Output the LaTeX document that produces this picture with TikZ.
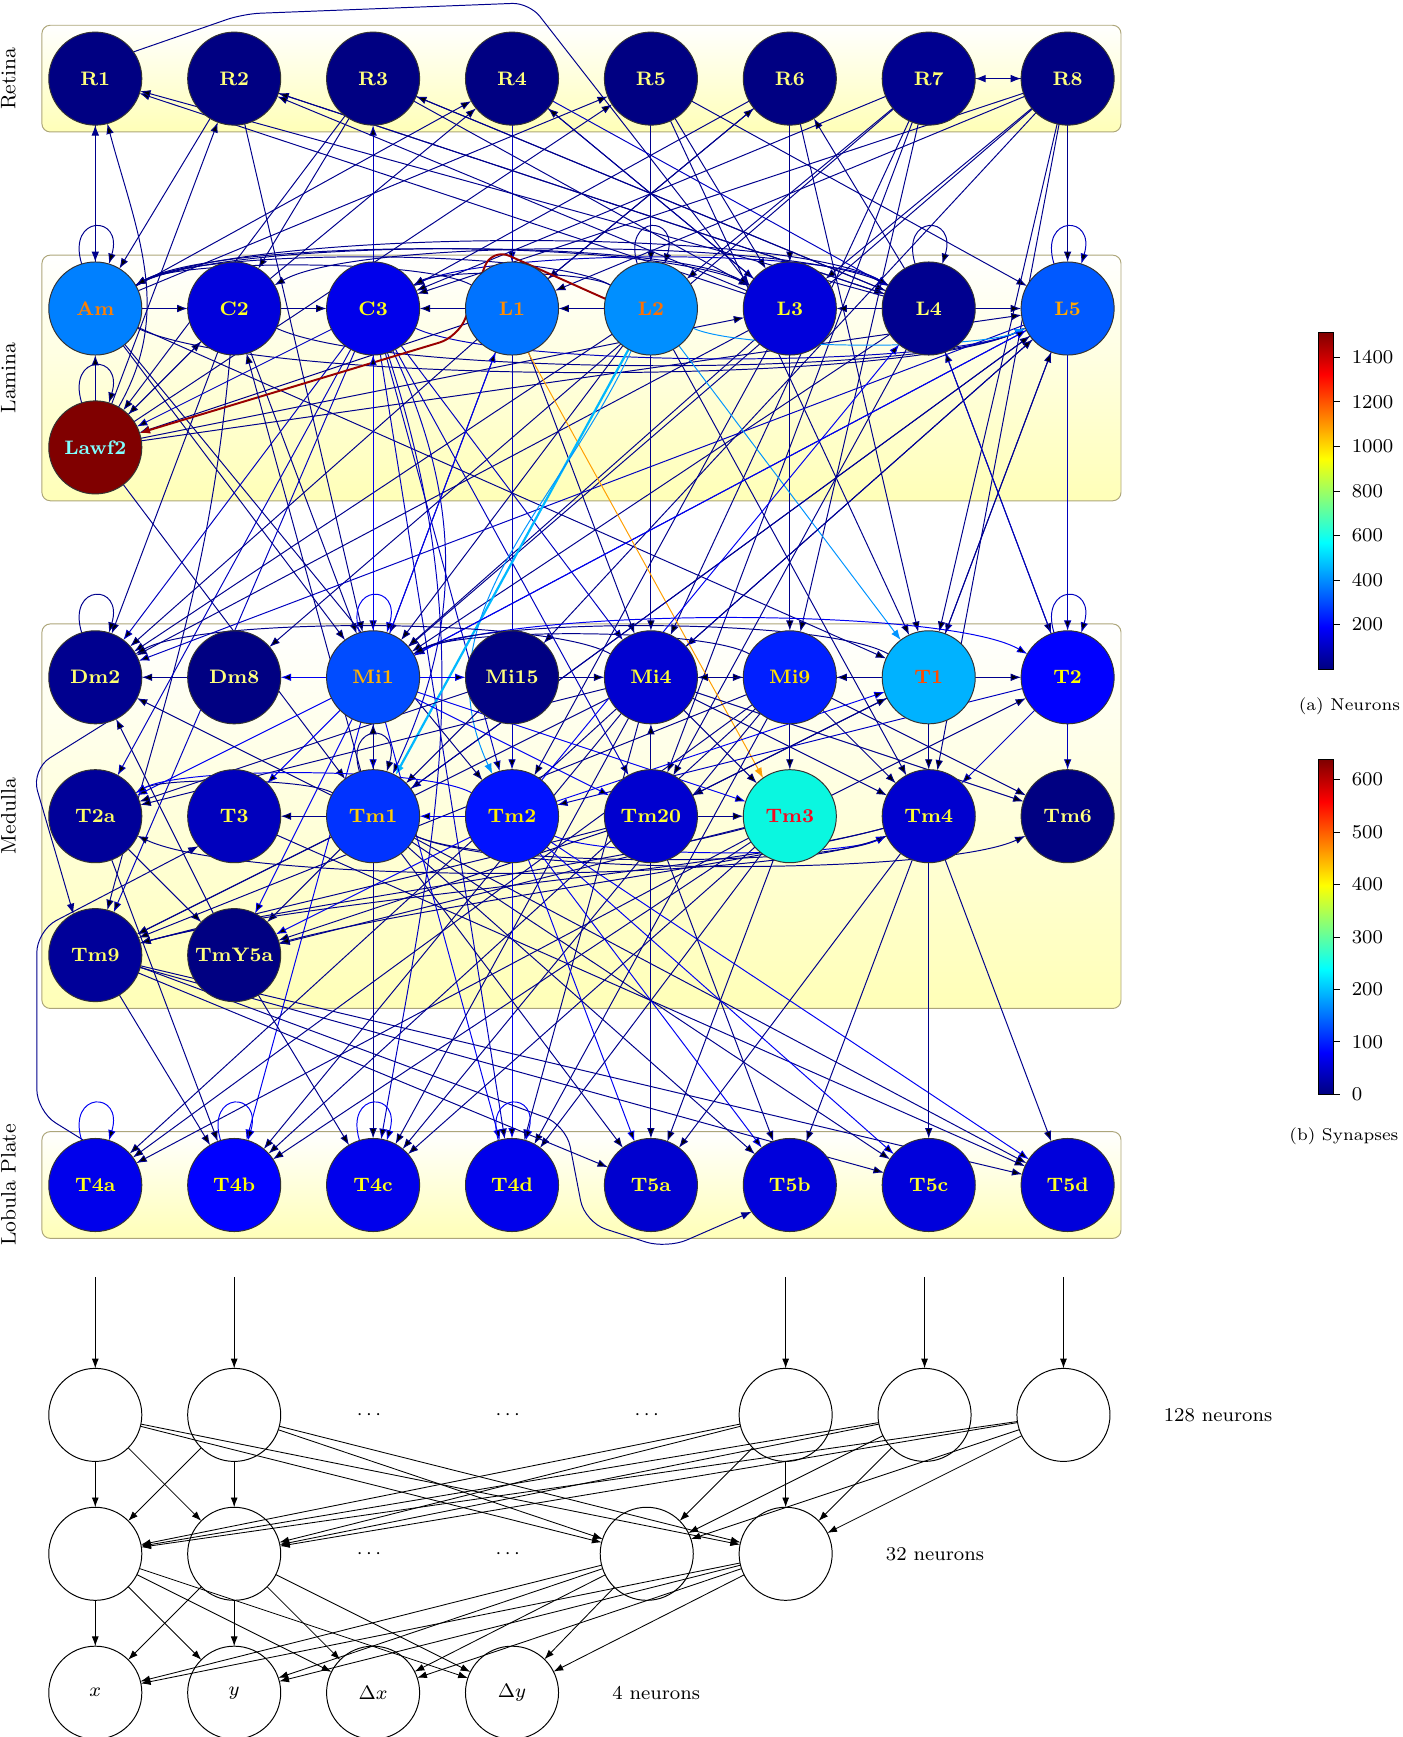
\documentclass[tikz,border=0pt]{standalone}
\usepackage{tikz}
\usetikzlibrary{arrows.meta,positioning,fit}
\definecolor{EdgeNavy}{rgb}{0,0,0.55}
\definecolor{EdgeMid}{rgb}{0,0,0.75}
\definecolor{EdgeBright}{rgb}{0,0,0.95}
\definecolor{SynRed}{rgb}{0.6,0,0}
\definecolor{SynOrange}{rgb}{1,0.62,0}
\definecolor{SynSky}{rgb}{0,0.72,1}
\definecolor{SynAzure}{rgb}{0,0.58,1}
\definecolor{PanelLine}{rgb}{0.68,0.65,0.48}
\definecolor{PanelYellow}{rgb}{1,1,0.72}
% neuron fills, jet map of the neuron counts
\definecolor{JetNavy}{rgb}{0,0,0.51}
\definecolor{JetDeep}{rgb}{0,0,0.56}
\definecolor{JetDark}{rgb}{0,0,0.6}
\definecolor{JetMid}{rgb}{0,0,0.74}
\definecolor{JetRoyal}{rgb}{0,0,0.81}
\definecolor{JetStrong}{rgb}{0,0,0.86}
\definecolor{JetVivid}{rgb}{0,0,0.92}
\definecolor{JetBlue}{rgb}{0,0,1}
\definecolor{JetTmtwo}{rgb}{0,0.07,1}
\definecolor{JetMinine}{rgb}{0,0.12,1}
\definecolor{JetTmone}{rgb}{0,0.2,1}
\definecolor{JetMione}{rgb}{0,0.3,1}
\definecolor{JetLfive}{rgb}{0,0.35,1}
\definecolor{JetLone}{rgb}{0,0.45,1}
\definecolor{JetAm}{rgb}{0,0.5,1}
\definecolor{JetLtwo}{rgb}{0,0.56,1}
\definecolor{JetTone}{rgb}{0,0.7,1}
\definecolor{JetCyan}{rgb}{0.04,0.97,0.88}
\definecolor{JetMaroon}{rgb}{0.5,0,0}
\pgfdeclareverticalshading{jet}{100bp}{rgb(0bp)=(0,0,0.5); rgb(25bp)=(0,0,0.5); rgb(31.25bp)=(0,0,1); rgb(43.75bp)=(0,1,1); rgb(56.25bp)=(1,1,0); rgb(68.75bp)=(1,0,0); rgb(75bp)=(0.5,0,0); rgb(100bp)=(0.5,0,0)}
\pgfdeclarelayer{panels}
\pgfdeclarelayer{wires}
\pgfsetlayers{panels,wires,main}

\begin{document}
\begin{tikzpicture}[
  node distance=6.6mm and 6.6mm,
  every node/.style={align=center},
  neuron/.style={circle,draw=black!80,line width=0.4pt,minimum size=13.4mm,inner sep=1pt,outer sep=0pt,fill=#1,text=-#1,font=\fontsize{8}{9}\selectfont\bfseries},
  mlpunit/.style={circle,draw=black,line width=0.4pt,minimum size=13.4mm,inner sep=1pt,outer sep=0pt,font=\fontsize{8}{9}\selectfont},
  panel/.style={draw=PanelLine,line width=0.4pt,rounded corners=1.2mm,top color=white,bottom color=PanelYellow,inner sep=2.8pt},
  layerlab/.style={rotate=90,font=\fontsize{8.6}{10}\selectfont},
  sizelab/.style={anchor=west,font=\fontsize{8}{9}\selectfont},
  ellip/.style={font=\fontsize{8}{9}\selectfont},
  arr/.style={-{Latex[length=1.5mm,width=1.1mm]},draw=EdgeNavy,line width=0.4pt},
  arrm/.style={arr,draw=EdgeMid},
  arrb/.style={arr,draw=EdgeBright},
  mlp/.style={-{Latex[length=1.4mm,width=1mm]},draw=black,line width=0.35pt},
  selfloop/.style={out=107,in=73,distance=7.5mm},
  arcup/.style={out=30,in=150,looseness=0.4},
  arcback/.style={out=150,in=30,looseness=0.4},
  arcdown/.style={out=-25,in=-155,looseness=0.4},
  arcdownback/.style={out=-155,in=-25,looseness=0.4},
  lowback/.style={out=-165,in=15,looseness=0.6}
]
\useasboundingbox (0,0) rectangle (20.19,-25.01);

% retina
\node[neuron=JetNavy] (R1) at (1.372,-1.132) {R1};
\node[neuron=JetNavy,right=of R1] (R2) {R2};
\node[neuron=JetNavy,right=of R2] (R3) {R3};
\node[neuron=JetNavy,right=of R3] (R4) {R4};
\node[neuron=JetNavy,right=of R4] (R5) {R5};
\node[neuron=JetNavy,right=of R5] (R6) {R6};
\node[neuron=JetDeep,right=of R6] (R7) {R7};
\node[neuron=JetNavy,right=of R7] (R8) {R8};

% lamina
\node[neuron=JetAm,below=19.7mm of R1] (Am) {Am};
\node[neuron=JetStrong,right=of Am] (C2) {C2};
\node[neuron=JetVivid,right=of C2] (C3) {C3};
\node[neuron=JetLone,right=of C3] (L1) {L1};
\node[neuron=JetLtwo,right=of L1] (L2) {L2};
\node[neuron=JetStrong,right=of L2] (L3) {L3};
\node[neuron=JetDeep,right=of L3] (L4) {L4};
\node[neuron=JetLfive,right=of L4] (L5) {L5};
\node[neuron=JetMaroon,below=of Am] (Lawf2) {Lawf2};

% medulla
\node[neuron=JetDeep,below=19.7mm of Lawf2] (Dm2) {Dm2};
\node[neuron=JetNavy,right=of Dm2] (Dm8) {Dm8};
\node[neuron=JetMione,right=of Dm8] (Mi1) {Mi1};
\node[neuron=JetNavy,right=of Mi1] (Mi15) {Mi15};
\node[neuron=JetRoyal,right=of Mi15] (Mi4) {Mi4};
\node[neuron=JetMinine,right=of Mi4] (Mi9) {Mi9};
\node[neuron=JetTone,right=of Mi9] (T1) {T1};
\node[neuron=JetBlue,right=of T1] (T2) {T2};
\node[neuron=JetDark,below=of Dm2] (T2a) {T2a};
\node[neuron=JetMid,right=of T2a] (T3) {T3};
\node[neuron=JetTmone,right=of T3] (Tm1) {Tm1};
\node[neuron=JetTmtwo,right=of Tm1] (Tm2) {Tm2};
\node[neuron=JetRoyal,right=of Tm2] (Tm20) {Tm20};
\node[neuron=JetCyan,right=of Tm20] (Tm3) {Tm3};
\node[neuron=JetRoyal,right=of Tm3] (Tm4) {Tm4};
\node[neuron=JetNavy,right=of Tm4] (Tm6) {Tm6};
\node[neuron=JetDark,below=of T2a] (Tm9) {Tm9};
\node[neuron=JetNavy,right=of Tm9] (TmY5a) {TmY5a};

% lobula plate
\node[neuron=JetVivid,below=19.7mm of Tm9] (T4a) {T4a};
\node[neuron=JetBlue,right=of T4a] (T4b) {T4b};
\node[neuron=JetVivid,right=of T4b] (T4c) {T4c};
\node[neuron=JetVivid,right=of T4c] (T4d) {T4d};
\node[neuron=JetRoyal,right=of T4d] (T5a) {T5a};
\node[neuron=JetStrong,right=of T5a] (T5b) {T5b};
\node[neuron=JetStrong,right=of T5b] (T5c) {T5c};
\node[neuron=JetStrong,right=of T5c] (T5d) {T5d};

\begin{pgfonlayer}{panels}
\node[panel,fit=(R1)(R8)] (retina) {};
\node[panel,fit=(Am)(L5)(Lawf2)] (lamina) {};
\node[panel,fit=(Dm2)(T2)(Tm9)] (medulla) {};
\node[panel,fit=(T4a)(T5d)] (lobula) {};
\end{pgfonlayer}
\node[layerlab] at ([xshift=-4.75mm]retina.west) {Retina};
\node[layerlab] at ([xshift=-4.75mm]lamina.west) {Lamina};
\node[layerlab] at ([xshift=-4.75mm]medulla.west) {Medulla};
\node[layerlab] at ([xshift=-4.75mm]lobula.west) {Lobula Plate};

\begin{pgfonlayer}{wires}
% retina
\draw[arr] (R1) -- (Am);
\draw[arr] (Am) -- (R1);
\draw[arr,rounded corners=7pt] (R1.35) -- (3.5,-0.2) -- (7.62,-0.04) -- (L3.150);
\draw[arr] (R7) -- (R8);
\draw[arr] (R8) -- (R7);
\draw[arr] (R2) edge (Am) edge (L4) edge (Mi1);
\draw[arr] (R3) edge (C2) edge (Lawf2) edge (L3) edge (L4);
\draw[arrm] (R4) edge (L1) edge (L3) edge (L4) edge (Tm2);
\draw[arr] (R5) edge (L2) edge (L3) edge (L5) edge (T1);
\draw[arr] (R6) edge (L3) edge (C3) edge (L1) edge (T1);
\draw[arr] (R7) edge (C3) edge (L2) edge (Mi4) edge (Mi9) edge (Tm20) edge (Dm8);
\draw[arr] (R8) edge (L5) edge (L1) edge (L3) edge (Mi15) edge (Mi1) edge (T1) edge (Tm4) edge (C3);
% lamina
\draw[arr] (Am) edge[selfloop] (Am) edge (C2) edge (R4) edge (R5) edge[arcup] (L3) edge[arcup] (L4) edge[arcdown] (L5) edge (T1) edge (Tm2) edge (Mi1);
\draw[arr] (Lawf2) edge[selfloop] (Lawf2) edge (Am) edge[out=60,in=-75] (R1) edge (R2) edge (R5) edge (C2) edge (L3) edge (L5) edge (Tm1);
\draw[arr] (C2) edge (C3) edge (Lawf2) edge (R4) edge[arcdown] (L5) edge[out=-95,in=75] (Tm9) edge (Mi1) edge (Dm2);
\draw[arrm] (C3) edge (R3) edge (Mi1) edge (Lawf2) edge[arcup] (L4) edge[arcdown] (L5) edge (Tm2) edge (Tm20) edge (Mi4) edge (Tm9) edge (T2a) edge (T4d) edge (Dm2) edge[out=-65,in=65] (Tm1) edge[out=-72,in=80] (T4c);
\draw[arr] (L1) edge (C3) edge[arcback] (Am) edge (Lawf2) edge (Mi1) edge (Mi4) edge (R6) edge (Dm2);
\draw[arr] (L2) edge[selfloop] (L2) edge (L1) edge[arcback] (Am) edge[arcback] (C3) edge (Mi4) edge (Mi1) edge (Dm2) edge (Tm4);
\draw[arr] (L3) edge (R1) edge (R2) edge (R4) edge (Mi9) edge[arcback] (Am) edge (Dm2) edge (Mi1) edge (Tm2);
\draw[arr] (L4) edge[selfloop] (L4) edge (L5) edge (L3) edge (R1) edge (R2) edge (R3) edge (R6) edge[arcback] (C2) edge (T2) edge (Tm20) edge (Mi1);
\draw[arrm] (L5) edge[selfloop] (L5) edge (T2) edge (Mi1) edge (Mi4) edge (Dm2) edge (T1) edge (Tm1);
\draw[arr,draw=SynRed,line width=0.8pt,rounded corners=8pt] (L2.168) -- (7.08,-3.57) -- (6.6,-4.85) -- (Lawf2.18);
\draw[arr,draw=SynOrange] (L1.-70) -- (Tm3.125);
\draw[arr,draw=SynSky,line width=0.9pt] (L2) -- (Tm1);
\draw[arr,draw=SynAzure] (L2) -- (T1);
\draw[arr,draw=SynAzure] (L2) to[arcdown] (L5);
\draw[arr,draw=SynAzure] (L2) to[out=245,in=115] (Tm2);
% medulla
\draw[arr] (Dm2) edge[selfloop] (Dm2);
\draw[arr,rounded corners=9pt] (Dm2.-40) -- (0.45,-11.08) -- (Tm9.118);
\draw[arr] (Dm8) edge (Dm2);
\draw[arrb] (Mi1) edge[selfloop] (Mi1) edge (Dm8) edge (Mi15) edge (Tm1) edge (T3) edge (T2a) edge (Tm20) edge (T4b) edge (T4d) edge (C3) edge (L1) edge (L5) edge[arcup] (T2) edge (Tm3) edge (TmY5a);
\draw[arr] (Mi15) edge (Mi4) edge (Tm1) edge (T2a);
\draw[arr] (Mi4) edge (Mi9) edge (Tm3) edge (Tm4) edge (Tm6) edge (T4a) edge (T4b) edge (T4c) edge (T4d) edge[arcback] (Dm2) edge (L5) edge (T2) edge (T2a) edge (Tm9);
\draw[arr] (Mi9) edge (Mi4) edge (Tm3) edge (Tm4) edge (Tm6) edge (T4a) edge (T4b) edge (T4c) edge (T4d) edge[arcback] (Mi1) edge (Tm9);
\draw[arr] (T1) edge (Mi9) edge (L5) edge (Tm4) edge[arcback] (Mi1) edge (Tm20);
\draw[arrm] (T2) edge[selfloop] (T2) edge (Tm6) edge (Tm4) edge (L4) edge (Tm2);
\draw[arr] (T2a) edge (TmY5a) edge (T4b);
\draw[arr] (T3) edge (T5d);
\draw[arr] (Tm1) edge[selfloop] (Tm1) edge (Mi1) edge (T3) edge (Dm2) edge[arcback] (T2a) edge (TmY5a) edge (C2) edge (L5) edge[arcdown] (Tm4) edge[arcdown] (Tm6) edge (T5a) edge (T5b) edge (T5c) edge (T5d) edge (Tm9) edge (T4c);
\draw[arrb] (Tm2) edge (Tm1) edge (T1) edge (L4) edge[arcdown] (Tm4) edge (T5a) edge (T5b) edge (T5c) edge (T5d) edge (TmY5a) edge[arcback] (T2a) edge (T4d);
\draw[arr] (Tm20) edge (Mi4) edge (T1) edge (Tm3) edge (TmY5a) edge (T5a) edge (T5b) edge[lowback] (Tm9);
\draw[arr] (Tm3) edge (T2) edge[lowback] (Tm9) edge (TmY5a) edge (T4a) edge (T4b) edge (T4c) edge (T4d) edge (T5a);
\draw[arr] (Tm4) edge (T5a) edge (T5b) edge (T5c) edge (T5d) edge[lowback] (TmY5a) edge[arcdownback] (T2a) edge[lowback] (Tm9);
\draw[arr] (Tm9) edge (T5a) edge (T5c) edge (T5d) edge (T4b);
\draw[arr,rounded corners=9pt] (Tm9.-15) -- (8.15,-16.2) -- (8.42,-17.6) -- (9.6,-17.98) -- (T5b.-145);
\draw[arr] (TmY5a) edge (Dm2) edge (T4c);
% lobula plate
\draw[arr,rounded corners=9pt] (T4a.105) -- (0.53,-16.0) -- (0.53,-13.4) -- (T3.-140);
\draw[arrb] (T4a) edge[selfloop] (T4a);
\draw[arrb] (T4b) edge[selfloop] (T4b);
\draw[arrb] (T4c) edge[selfloop] (T4c);
\draw[arrb] (T4d) edge[selfloop] (T4d);
\end{pgfonlayer}

% read-out network
\node[mlpunit,below=19.7mm of T4a] (h1a) {};
\node[mlpunit,below=19.7mm of T4b] (h1b) {};
\node[mlpunit,below=19.7mm of T5b,xshift=-0.6mm] (h1f) {};
\node[mlpunit,below=19.7mm of T5c,xshift=-0.6mm] (h1g) {};
\node[mlpunit,below=19.7mm of T5d,xshift=-0.6mm] (h1h) {};
\node[mlpunit,below=of h1a] (h2a) {};
\node[mlpunit,below=of h1b] (h2b) {};
\node[mlpunit,below=of h1f] (h2f) {};
\node[mlpunit,left=of h2f] (h2e) {};
\node[mlpunit,below=of h2a] (ox) {$x$};
\node[mlpunit,right=of ox] (oy) {$y$};
\node[mlpunit,right=of oy] (odx) {$\Delta x$};
\node[mlpunit,right=of odx] (ody) {$\Delta y$};
\node[ellip] (d1c) at ([xshift=-0.6mm]T4c |- h1a) {$\cdots$};
\node[ellip] (d1d) at ([xshift=-0.6mm]T4d |- h1a) {$\cdots$};
\node[ellip] (d1e) at ([xshift=-0.6mm]T5a |- h1a) {$\cdots$};
\node[ellip] (d2c) at ([xshift=-0.6mm]T4c |- h2a) {$\cdots$};
\node[ellip] (d2d) at ([xshift=-0.6mm]T4d |- h2a) {$\cdots$};
\node[sizelab,right=6.5mm of h1h] (n128) {128 neurons};
\node[sizelab,right=6.5mm of h2f] (n32) {32 neurons};
\node[sizelab,right=6.5mm of ody] (n4) {4 neurons};
\coordinate (in1) at ([yshift=19.8mm]h1a.center);
\coordinate (in2) at ([yshift=19.8mm]h1b.center);
\coordinate (in6) at ([yshift=19.8mm]h1f.center);
\coordinate (in7) at ([yshift=19.8mm]h1g.center);
\coordinate (in8) at ([yshift=19.8mm]h1h.center);
\draw[mlp] (in1) -- (h1a);
\draw[mlp] (in2) -- (h1b);
\draw[mlp] (in6) -- (h1f);
\draw[mlp] (in7) -- (h1g);
\draw[mlp] (in8) -- (h1h);
\draw[mlp] (h1a) edge (h2a) edge (h2b) edge (h2e) edge (h2f);
\draw[mlp] (h1b) edge (h2a) edge (h2b) edge (h2e) edge (h2f);
\draw[mlp] (h1f) edge (h2a) edge (h2b) edge (h2e) edge (h2f);
\draw[mlp] (h1g) edge (h2a) edge (h2b) edge (h2e) edge (h2f);
\draw[mlp] (h1h) edge (h2a) edge (h2b) edge (h2e) edge (h2f);
\draw[mlp] (h2a) edge (ox) edge (oy) edge (odx) edge (ody);
\draw[mlp] (h2b) edge (ox) edge (oy) edge (odx) edge (ody);
\draw[mlp] (h2e) edge (ox) edge (oy) edge (odx) edge (ody);
\draw[mlp] (h2f) edge (ox) edge (oy) edge (odx) edge (ody);

% colour bars
\shade[shading=jet] (18.98,-9.633) rectangle (19.20,-4.785);
\draw[line width=0.4pt] (18.98,-9.633) rectangle (19.20,-4.785);
\foreach \v in {200,400,...,1400}
  \draw[line width=0.4pt] (19.20,-9.633+\v*0.0032021) -- ++(0.09,0)
    node[right=0.5mm,font=\fontsize{8}{9}\selectfont] {\v};
\node[font=\fontsize{7}{8}\selectfont] at (19.43,-10.175) {(a) Neurons};
\shade[shading=jet] (18.98,-15.758) rectangle (19.20,-10.94);
\draw[line width=0.4pt] (18.98,-15.758) rectangle (19.20,-10.94);
\foreach \v in {0,100,...,600}
  \draw[line width=0.4pt] (19.20,-15.758+\v*0.0075517) -- ++(0.09,0)
    node[right=0.5mm,font=\fontsize{8}{9}\selectfont] {\v};
\node[font=\fontsize{7}{8}\selectfont] at (19.35,-16.36) {(b) Synapses};
\end{tikzpicture}
\end{document}
